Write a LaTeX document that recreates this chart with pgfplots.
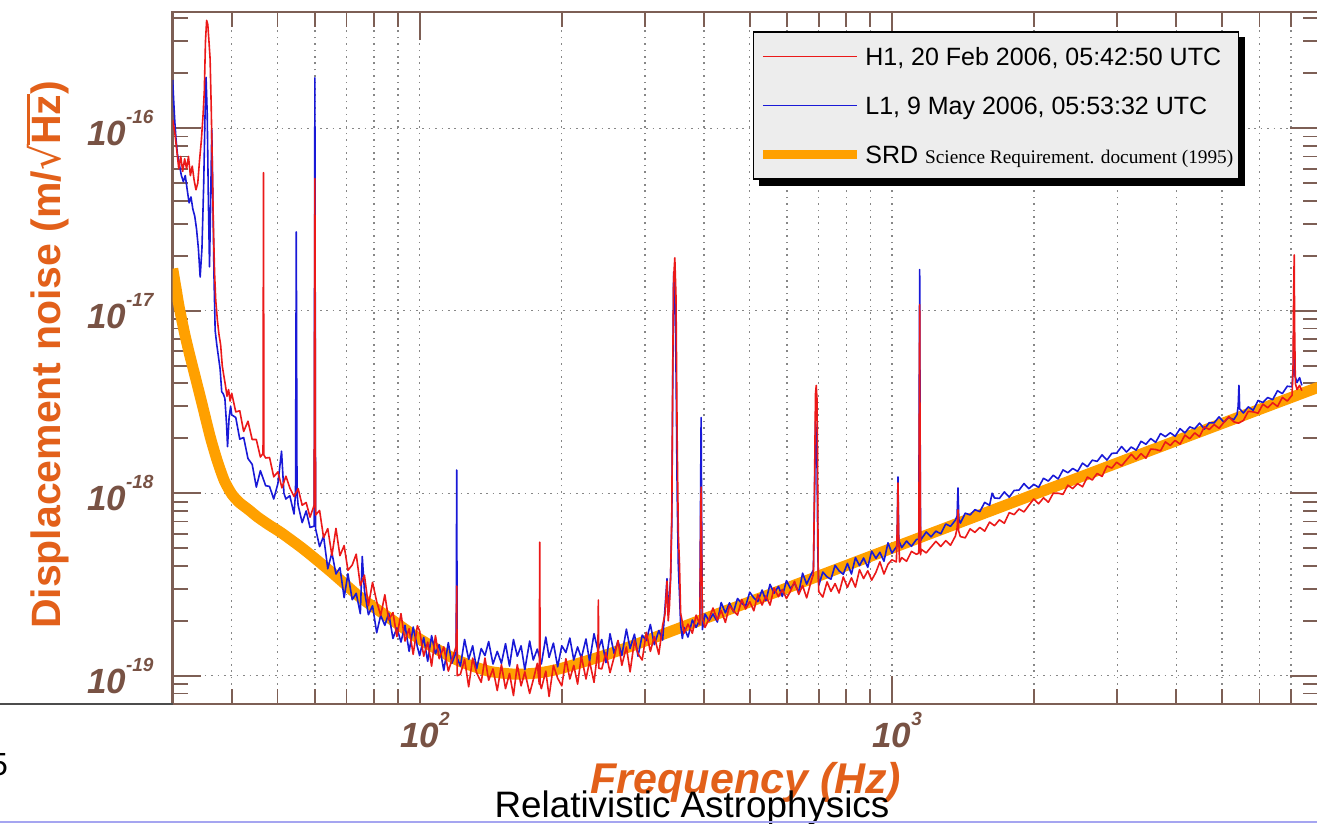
\documentclass[border=0pt]{standalone}
\usepackage{pgfplots}
\pgfplotsset{compat=1.18}
\usepackage{pgfplotstable}
\usepackage{fontspec}
\setmainfont{Liberation Sans}
\newfontfamily\timesfont{Liberation Serif}
\newfontfamily\djv{DejaVu Sans}

\definecolor{h1red}{RGB}{235,25,25}
\definecolor{l1blue}{RGB}{25,25,215}
\definecolor{srdorange}{RGB}{255,160,0}
\definecolor{axisbrown}{RGB}{125,95,85}
\definecolor{tickbrown}{RGB}{120,82,68}
\definecolor{labelorange}{RGB}{226,96,26}
\definecolor{legendgray}{RGB}{237,237,237}
\definecolor{slidepurple}{RGB}{165,165,240}
\definecolor{gridgray}{RGB}{135,135,135}

\newcommand{\xtl}[1]{10\rlap{\raisebox{0.63em}{\fontsize{19}{19}\selectfont #1}}}
\newcommand{\ytl}[1]{10\raisebox{0.63em}{\fontsize{19}{19}\selectfont #1}}

\pgfplotstableread[row sep=\\]{
f v\\
30 1.11e-16\\ 30.3 9.5e-17\\ 30.6 7.6e-17\\ 30.9 6.0e-17\\ 31.2 7.0e-17\\ 31.5 5.8e-17\\ 31.8 6.8e-17\\
32.1 6.0e-17\\ 32.4 7.0e-17\\ 32.7 5.5e-17\\ 33.0 6.2e-17\\ 33.3 5.2e-17\\ 33.6 4.6e-17\\ 33.9 5.0e-17\\
34.2 6.7e-17\\ 34.5 8.6e-17\\ 34.8 1.2e-16\\ 35.0 1.6e-16\\ 35.2 3.0e-16\\ 35.4 3.9e-16\\ 35.6 3.7e-16\\
35.8 3.0e-16\\ 36.0 2.4e-16\\ 36.2 1.3e-16\\ 36.4 6.0e-17\\ 36.6 2.8e-17\\ 36.8 1.6e-17\\ 37.0 1.15e-17\\
37.3 8.9e-18\\ 37.6 7.4e-18\\ 37.9 6.5e-18\\ 38.2 5.0e-18\\ 38.5 4.4e-18\\ 38.8 3.9e-18\\ 39.1 3.4e-18\\
39.4 3.7e-18\\ 39.7 3.2e-18\\ 40 3.53e-18\\ 40.8 2.79e-18\\ 41.6 2.83e-18\\ 42.4 2.18e-18\\ 43.3 2.48e-18\\
44.2 1.97e-18\\ 45.1 1.97e-18\\ 46 1.58e-18\\ 46.6 1.65e-18\\ 46.7 5.7e-17\\ 46.8 1.62e-18\\ 47.2 1.56e-18\\
48.1 1.57e-18\\ 49.1 1.23e-18\\ 50.1 1.31e-18\\ 51.1 1.07e-18\\ 52.1 1.24e-18\\ 53.1 1.07e-18\\ 54.2 9.6e-19\\
55.3 1.06e-18\\ 56.4 8.6e-19\\ 57.5 8.9e-19\\ 58.6 7.4e-19\\ 59.8 8.6e-19\\ 60 5.3e-17\\ 60.2 7.6e-19\\
61.4 8.05e-19\\ 62.6 5.72e-19\\ 63.9 6.4e-19\\ 65.2 4.56e-19\\ 66.5 6.42e-19\\ 67.8 4.55e-19\\ 69.2 5.17e-19\\
70.5 3.78e-19\\ 72 4.05e-19\\ 73.4 4.64e-19\\ 74.9 3.12e-19\\ 76.4 3.56e-19\\ 77.9 2.42e-19\\ 79.5 3.25e-19\\
81.1 2.55e-19\\ 82.7 2.14e-19\\ 84.4 2.78e-19\\ 86 2.02e-19\\ 87.8 2.22e-19\\ 89.5 1.64e-19\\ 91.3 2.19e-19\\
93.1 1.55e-19\\ 95 1.81e-19\\ 96.9 1.31e-19\\ 98.9 1.88e-19\\ 100 1.76e-19\\ 102 1.28e-19\\ 104 1.53e-19\\
106 1.13e-19\\ 108 1.66e-19\\ 110 1.24e-19\\ 112.5 1.44e-19\\ 115 1.06e-19\\ 117 1.22e-19\\ 119.5 1.45e-19\\
119.8 3.1e-19\\ 120.1 1.0e-19\\ 122 1.02e-19\\ 124.5 1.23e-19\\ 127 8.7e-20\\ 129.5 1.25e-19\\ 132 1.04e-19\\
135 9.2e-20\\ 137.5 1.25e-19\\ 140 9.45e-20\\ 143 1.09e-19\\ 146 8.3e-20\\ 149 1.15e-19\\ 152 8.5e-20\\
155 1.03e-19\\ 158 7.8e-20\\ 161 1.15e-19\\ 164 8.8e-20\\ 167 1.05e-19\\ 171 8.0e-20\\ 174 9.5e-20\\
177.5 1.17e-19\\ 179.2 9.0e-20\\ 179.6 5.4e-19\\ 180 9.0e-20\\ 181 8.5e-20\\ 185 1.06e-19\\ 188 7.7e-20\\
192 1.14e-19\\ 196 9.7e-20\\ 200 8.8e-20\\ 204 1.24e-19\\ 208 9.6e-20\\ 212 1.14e-19\\ 216 9.0e-20\\
220 1.28e-19\\ 225 9.6e-20\\ 229 1.2e-19\\ 234 9.2e-20\\ 238.5 1.4e-19\\ 239 2.6e-19\\ 239.5 1.1e-19\\
243 1.09e-19\\ 248 1.34e-19\\ 253 1.04e-19\\ 258 1.26e-19\\ 263 1.56e-19\\ 268 1.14e-19\\ 274 1.44e-19\\
279 1.05e-19\\ 285 1.56e-19\\ 290 1.32e-19\\ 296 1.22e-19\\ 302 1.73e-19\\ 308 1.36e-19\\ 314 1.64e-19\\
321 1.31e-19\\ 327 1.89e-19\\ 331 2.2e-19\\ 334 3.3e-19\\ 336 2.0e-19\\ 338 2.4e-19\\ 340 3.5e-19\\
342 8.0e-19\\ 343.5 5.0e-18\\ 345 1.5e-17\\ 347 1.95e-17\\ 349 1.2e-17\\ 351 2.0e-18\\ 353 6.0e-19\\
355 4.1e-19\\ 357 2.2e-19\\ 360 1.97e-19\\ 363 1.71e-19\\ 370 1.92e-19\\ 378 1.71e-19\\ 385 2.15e-19\\
392 1.91e-19\\ 393.5 6.0e-19\\ 394.5 1.08e-18\\ 395.5 5.0e-19\\ 397 2.08e-19\\ 402 1.84e-19\\ 410 2.05e-19\\
418 2.35e-19\\ 427 2.02e-19\\ 435 2.28e-19\\ 444 1.96e-19\\ 453 2.42e-19\\ 462 2.27e-19\\ 471 2.15e-19\\
481 2.62e-19\\ 490 2.32e-19\\ 500 2.55e-19\\ 510 2.27e-19\\ 520 2.78e-19\\ 531 2.44e-19\\ 541 2.74e-19\\
552 2.44e-19\\ 563 3.03e-19\\ 575 2.71e-19\\ 586 2.97e-19\\ 598 2.65e-19\\ 610 2.91e-19\\ 622 3.29e-19\\
635 2.79e-19\\ 647 3.12e-19\\ 660 2.67e-19\\ 673 3.23e-19\\ 682 3.6e-19\\ 686 1.2e-18\\ 689 3.5e-18\\
691.5 3.9e-18\\ 694 3.3e-18\\ 696 1.5e-18\\ 698 4.0e-19\\ 700 2.89e-19\\ 714 2.7e-19\\ 729 3.27e-19\\
743 2.9e-19\\ 758 3.2e-19\\ 773 2.84e-19\\ 789 3.48e-19\\ 805 3.05e-19\\ 821 3.44e-19\\ 837 3.06e-19\\
854 3.81e-19\\ 871 3.41e-19\\ 889 3.76e-19\\ 906 3.34e-19\\ 925 3.69e-19\\ 943 4.21e-19\\ 962 3.61e-19\\
981 4.08e-19\\ 1000 4.32e-19\\ 1022 4.2e-19\\ 1027 7.0e-19\\ 1030 1.14e-18\\ 1033 6.0e-19\\ 1038 4.2e-19\\
1049 4.44e-19\\ 1074 4.24e-19\\ 1100 4.8e-19\\ 1127 4.63e-19\\ 1140 4.7e-19\\ 1143 3.0e-18\\ 1145 1.08e-17\\
1147 2.0e-18\\ 1150 4.6e-19\\ 1154 4.93e-19\\ 1182 4.71e-19\\ 1210 5.07e-19\\ 1239 5.45e-19\\ 1269 5.11e-19\\
1300 5.5e-19\\ 1331 5.19e-19\\ 1363 5.83e-19\\ 1375 6.5e-19\\ 1380 8.1e-19\\ 1385 6.2e-19\\ 1396 5.79e-19\\
1430 5.7e-19\\ 1464 6.38e-19\\ 1499 6.1e-19\\ 1535 6.5e-19\\ 1572 6.2e-19\\ 1610 6.95e-19\\ 1649 6.64e-19\\
1689 7.15e-19\\ 1730 6.85e-19\\ 1772 7.83e-19\\ 1815 7.64e-19\\ 1859 8.2e-19\\ 1904 7.9e-19\\ 1950 8.59e-19\\
1997 9.3e-19\\ 2045 8.75e-19\\ 2094 9.44e-19\\ 2144 8.93e-19\\ 2196 1.0e-18\\ 2249 1.0e-18\\ 2303 9.86e-19\\
2358 1.107e-18\\ 2415 1.06e-18\\ 2473 1.13e-18\\ 2533 1.085e-18\\ 2594 1.227e-18\\ 2656 1.182e-18\\ 2720 1.284e-18\\
2786 1.236e-18\\ 2853 1.411e-18\\ 2922 1.374e-18\\ 2992 1.479e-18\\ 3064 1.412e-18\\ 3138 1.521e-18\\ 3213 1.635e-18\\
3290 1.532e-18\\ 3369 1.649e-18\\ 3450 1.557e-18\\ 3533 1.747e-18\\ 3618 1.737e-18\\ 3705 1.707e-18\\ 3794 1.912e-18\\
3885 1.828e-18\\ 3979 1.948e-18\\ 4075 1.858e-18\\ 4173 2.083e-18\\ 4273 1.99e-18\\ 4376 2.142e-18\\ 4481 2.043e-18\\
4589 2.313e-18\\ 4699 2.233e-18\\ 4812 2.379e-18\\ 4928 2.27e-18\\ 5047 2.447e-18\\ 5168 2.63e-18\\ 5292 2.464e-18\\
5419 2.42e-18\\ 5549 2.504e-18\\ 5683 2.81e-18\\ 5820 2.794e-18\\ 5960 2.746e-18\\ 6103 3.076e-18\\ 6250 2.94e-18\\
6400 3.133e-18\\ 6554 2.989e-18\\ 6712 3.351e-18\\ 6873 3.2e-18\\ 7038 3.446e-18\\ 7070 5.0e-18\\ 7090 1.2e-17\\
7110 2.02e-17\\ 7125 8.0e-18\\ 7150 4.0e-18\\ 7207 3.7e-18\\ 7300 3.9e-18\\ 7380 3.65e-18\\
}\tabred

\pgfplotstableread[row sep=\\]{
f v\\
30 1.84e-16\\ 30.15 1.4e-16\\ 30.3 1.1e-16\\ 30.5 8.6e-17\\ 30.7 7.2e-17\\ 31.0 6.3e-17\\ 31.3 5.5e-17\\
31.6 5.1e-17\\ 31.9 5.5e-17\\ 32.2 4.6e-17\\ 32.5 3.9e-17\\ 32.8 4.2e-17\\ 33.1 3.6e-17\\ 33.4 3.3e-17\\
33.7 2.8e-17\\ 34.0 2.2e-17\\ 34.3 1.53e-17\\ 34.6 2.2e-17\\ 34.9 5.0e-17\\ 35.1 1.1e-16\\ 35.3 1.9e-16\\
35.5 1.2e-16\\ 35.7 4.0e-17\\ 35.9 1.74e-17\\ 36.1 4.0e-17\\ 36.3 9.8e-17\\ 36.5 4.0e-17\\ 36.7 1.5e-17\\
36.9 7.8e-18\\ 37.2 6.5e-18\\ 37.5 5.6e-18\\ 37.8 4.8e-18\\ 38.1 3.6e-18\\ 38.4 3.5e-18\\ 38.7 3.3e-18\\
39.0 2.4e-18\\ 39.2 1.8e-18\\ 39.5 2.6e-18\\ 39.8 3.0e-18\\ 40 2.69e-18\\ 40.8 2.6e-18\\ 41.6 1.98e-18\\
42.4 2.02e-18\\ 43.3 1.55e-18\\ 44.2 1.44e-18\\ 45.1 1.08e-18\\ 46 1.33e-18\\ 47.2 1.1e-18\\ 48.1 1.09e-18\\
49.1 9.3e-19\\ 50.1 1.13e-18\\ 51 1.7e-18\\ 51.6 1.0e-18\\ 52.1 9.3e-19\\ 53.1 9.7e-19\\ 54.2 7.7e-19\\
54.6 1.0e-18\\ 54.8 2.7e-17\\ 55.0 1.0e-18\\ 55.3 8.6e-19\\ 56.4 6.9e-19\\ 57.5 8.0e-19\\ 58.6 6.5e-19\\
59.8 6.6e-19\\ 60 1.89e-16\\ 60.2 6.4e-19\\ 61.4 5.1e-19\\ 62.6 5.82e-19\\ 63.9 3.86e-19\\ 65.2 4.72e-19\\
66.5 3.61e-19\\ 67.8 3.91e-19\\ 69.2 2.68e-19\\ 70.5 3.62e-19\\ 72 2.61e-19\\ 73.4 2.83e-19\\ 74.9 2.19e-19\\
75.6 4.5e-19\\ 76.4 2.94e-19\\ 77.9 2.16e-19\\ 79.5 2.42e-19\\ 81.1 1.72e-19\\ 82.7 2.14e-19\\ 84.4 1.89e-19\\
86 2.2e-19\\ 87.8 1.6e-19\\ 89.5 1.83e-19\\ 91.3 1.53e-19\\ 93.1 1.89e-19\\ 95 1.36e-19\\ 96.9 1.85e-19\\
98.9 1.44e-19\\ 100 1.29e-19\\ 102 1.62e-19\\ 104 1.2e-19\\ 106 1.66e-19\\ 108 1.32e-19\\ 110 1.48e-19\\
112.5 1.07e-19\\ 115 1.52e-19\\ 117 1.17e-19\\ 119.5 1.35e-19\\ 119.8 1.34e-18\\ 120.1 1.25e-19\\ 122 1.13e-19\\
124.5 1.58e-19\\ 127 1.23e-19\\ 129.5 1.46e-19\\ 132 1.09e-19\\ 135 1.41e-19\\ 137.5 1.29e-19\\ 140 1.54e-19\\
143 1.16e-19\\ 146 1.36e-19\\ 149 1.17e-19\\ 152 1.5e-19\\ 155 1.13e-19\\ 158 1.58e-19\\ 161 1.28e-19\\
164 1.46e-19\\ 167 1.08e-19\\ 171 1.55e-19\\ 174 1.22e-19\\ 177.5 1.4e-19\\ 181 1.16e-19\\ 185 1.63e-19\\
188 1.26e-19\\ 192 1.51e-19\\ 196 1.12e-19\\ 200 1.46e-19\\ 204 1.34e-19\\ 208 1.61e-19\\ 212 1.22e-19\\
216 1.44e-19\\ 220 1.25e-19\\ 225 1.59e-19\\ 229 1.2e-19\\ 234 1.7e-19\\ 238.5 1.38e-19\\ 243 1.58e-19\\
248 1.18e-19\\ 253 1.7e-19\\ 258 1.33e-19\\ 263 1.55e-19\\ 268 1.29e-19\\ 274 1.8e-19\\ 279 1.41e-19\\
285 1.69e-19\\ 290 1.28e-19\\ 296 1.67e-19\\ 302 1.56e-19\\ 308 1.91e-19\\ 314 1.48e-19\\ 321 1.77e-19\\
327 1.57e-19\\ 331 2.4e-19\\ 334 3.4e-19\\ 336 2.2e-19\\ 338 2.7e-19\\ 340 3.5e-19\\ 342 7.0e-19\\
343.5 4.0e-18\\ 345 1.63e-17\\ 347 1.5e-17\\ 349 5.0e-18\\ 351 1.0e-18\\ 353 4.0e-19\\ 355 2.8e-19\\
357 1.9e-19\\ 360 1.6e-19\\ 363 1.84e-19\\ 370 1.63e-19\\ 378 2.02e-19\\ 385 1.84e-19\\ 392 2.03e-19\\
393.5 1.0e-18\\ 394.5 2.6e-18\\ 395.5 8.0e-19\\ 397 1.79e-19\\ 402 2.18e-19\\ 410 2.0e-19\\ 418 2.18e-19\\
427 1.97e-19\\ 435 2.52e-19\\ 444 2.21e-19\\ 453 2.51e-19\\ 462 2.24e-19\\ 471 2.65e-19\\ 481 2.49e-19\\
490 2.41e-19\\ 500 2.87e-19\\ 510 2.67e-19\\ 520 2.55e-19\\ 531 2.95e-19\\ 541 2.58e-19\\ 552 3.17e-19\\
563 2.83e-19\\ 575 3.09e-19\\ 586 2.72e-19\\ 598 3.32e-19\\ 610 3.0e-19\\ 622 3.22e-19\\ 635 2.86e-19\\
647 3.65e-19\\ 660 3.18e-19\\ 673 3.55e-19\\ 682 3.8e-19\\ 686 1.0e-18\\ 689 2.47e-18\\ 691.5 2.2e-18\\
694 1.5e-18\\ 697 4.5e-19\\ 700 3.13e-19\\ 714 3.7e-19\\ 729 3.48e-19\\ 743 3.38e-19\\ 758 4.03e-19\\
773 3.76e-19\\ 789 3.6e-19\\ 805 4.13e-19\\ 821 3.61e-19\\ 837 4.44e-19\\ 854 4.01e-19\\ 871 4.42e-19\\
889 3.93e-19\\ 906 4.82e-19\\ 925 4.4e-19\\ 943 4.75e-19\\ 962 4.24e-19\\ 981 5.35e-19\\ 1000 4.7e-19\\
1024 5.12e-19\\ 1026 6.0e-19\\ 1030 1.23e-18\\ 1034 5.5e-19\\ 1049 5.04e-19\\ 1074 5.47e-19\\ 1100 5.12e-19\\
1127 5.58e-19\\ 1140 5.6e-19\\ 1143 5.0e-18\\ 1145 1.68e-17\\ 1147 3.0e-18\\ 1150 5.5e-19\\ 1154 5.6e-19\\
1182 6.14e-19\\ 1210 5.77e-19\\ 1239 6.2e-19\\ 1269 6.0e-19\\ 1300 6.79e-19\\ 1331 6.59e-19\\ 1363 7.13e-19\\
1374 7.5e-19\\ 1380 1.07e-18\\ 1386 7.2e-19\\ 1396 6.86e-19\\ 1430 7.78e-19\\ 1464 7.61e-19\\ 1499 8.13e-19\\
1535 7.93e-19\\ 1572 8.91e-19\\ 1610 8.59e-19\\ 1630 1.0e-18\\ 1649 9.42e-19\\ 1689 9.37e-19\\ 1730 1.017e-18\\
1772 9.52e-19\\ 1815 1.036e-18\\ 1859 1.041e-18\\ 1904 1.13e-18\\ 1950 1.059e-18\\ 1997 1.119e-18\\ 2045 1.078e-18\\
2094 1.208e-18\\ 2144 1.166e-18\\ 2196 1.255e-18\\ 2249 1.198e-18\\ 2303 1.342e-18\\ 2358 1.296e-18\\ 2415 1.367e-18\\
2473 1.318e-18\\ 2533 1.462e-18\\ 2594 1.397e-18\\ 2656 1.518e-18\\ 2720 1.495e-18\\ 2786 1.623e-18\\ 2853 1.52e-18\\
2922 1.654e-18\\ 2992 1.661e-18\\ 3064 1.803e-18\\ 3138 1.683e-18\\ 3213 1.792e-18\\ 3290 1.722e-18\\ 3369 1.927e-18\\
3450 1.856e-18\\ 3533 1.994e-18\\ 3618 1.9e-18\\ 3705 2.124e-18\\ 3794 2.043e-18\\ 3885 2.144e-18\\ 3979 2.052e-18\\
4075 2.259e-18\\ 4173 2.142e-18\\ 4273 2.31e-18\\ 4376 2.253e-18\\ 4481 2.423e-18\\ 4589 2.247e-18\\ 4699 2.435e-18\\
4812 2.43e-18\\ 4928 2.622e-18\\ 5047 2.448e-18\\ 5168 2.61e-18\\ 5292 2.524e-18\\ 5380 2.7e-18\\ 5410 3.0e-18\\
5430 3.9e-18\\ 5450 2.9e-18\\ 5549 2.752e-18\\ 5683 2.974e-18\\ 5820 2.849e-18\\ 5960 3.223e-18\\ 6103 3.142e-18\\
6250 3.347e-18\\ 6400 3.256e-18\\ 6554 3.646e-18\\ 6712 3.516e-18\\ 6873 3.858e-18\\ 7038 3.832e-18\\ 7080 5.0e-18\\
7100 8.6e-18\\ 7120 4.5e-18\\ 7207 4.04e-18\\ 7300 4.3e-18\\ 7380 3.9e-18\\
}\tabblue

\pgfplotstableread[row sep=\\]{
f v\\
30 1.7e-17\\ 30.5 1.32e-17\\ 31 1.03e-17\\ 31.8 7.5e-18\\ 32.5 5.9e-18\\ 33.3 4.6e-18\\ 34.5 3.2e-18\\
36 2.05e-18\\ 37.3 1.5e-18\\ 38.6 1.17e-18\\ 40 9.9e-19\\ 41.5 8.9e-19\\ 43.5 8.1e-19\\ 45.4 7.4e-19\\
48 6.7e-19\\ 51 6.06e-19\\ 57 4.9e-19\\ 65 3.7e-19\\ 75 2.68e-19\\ 85 2.13e-19\\ 100 1.59e-19\\
120 1.22e-19\\ 140 1.06e-19\\ 160 1.02e-19\\ 180 1.04e-19\\ 200 1.1e-19\\ 250 1.31e-19\\ 300 1.55e-19\\
400 2.05e-19\\ 600 3.03e-19\\ 1000 5.0e-19\\ 2000 9.85e-19\\ 4000 1.94e-18\\ 8000 3.81e-18\\
}\tabsrd

\begin{document}
\begin{tikzpicture}[x=1pt,y=1pt]
\path[use as bounding box] (0,0) rectangle (1317,823);
\begin{axis}[
  at={(172.7pt,119pt)}, anchor=south west,
  width=1145.7pt, height=692pt, scale only axis,
  xmode=log, ymode=log,
  xmin=30, xmax=8000, ymin=7e-20, ymax=4.33e-16,
  axis line style={draw=axisbrown, line width=2.5pt},
  tick style={draw=axisbrown, line width=1.8pt},
  major tick length=28pt, minor tick length=15pt,
  tick align=inside,
  xtick={100,1000},
  xticklabels={\xtl{2},\xtl{3}},
  minor xtick={30,40,50,60,70,80,90,200,300,400,500,600,700,800,900,2000,3000,4000,5000,6000,7000,8000},
  ytick={1e-19,1e-18,1e-17,1e-16},
  yticklabels={\ytl{-19},\ytl{-18},\ytl{-17},\ytl{-16}},
  minor ytick={8e-20,9e-20,2e-19,3e-19,4e-19,5e-19,6e-19,7e-19,8e-19,9e-19,2e-18,3e-18,4e-18,5e-18,6e-18,7e-18,8e-18,9e-18,2e-17,3e-17,4e-17,5e-17,6e-17,7e-17,8e-17,9e-17,2e-16,3e-16,4e-16},
  xmajorgrids=true, xminorgrids=true, ymajorgrids=true, yminorgrids=false,
  major grid style={draw=gridgray, line width=1.3pt, dash pattern=on 1.6pt off 4.8pt},
  minor grid style={draw=gridgray, line width=1.3pt, dash pattern=on 1.6pt off 4.8pt},
  tick label style={font=\fontsize{35}{35}\selectfont\bfseries\itshape, text=tickbrown},
  xticklabel style={anchor=north, inner sep=0pt, yshift=-8pt},
  yticklabel style={anchor=east, inner sep=0pt, xshift=-19pt},
  legend image code/.code={\draw[#1] (8pt,0pt) -- (94pt,0pt); \path (0pt,0pt) -- (94pt,0pt);},
  legend cell align=left,
  legend style={name=leg, at={(0.9307,0.9725)}, anchor=north east,
    fill=legendgray, draw=black, line width=1.5pt,
    font=\fontsize{25}{30}\selectfont,
    inner xsep=5pt, inner ysep=0pt, column sep=4pt, row sep=0pt,
    nodes={inner sep=0pt, text height=18pt, text depth=0pt, minimum height=49pt}},
]
\addlegendimage{h1red, line width=1.2pt}
\addlegendentry{H1, 20 Feb 2006, 05:42:50 UTC}
\addlegendimage{l1blue, line width=1.2pt}
\addlegendentry{L1, 9 May 2006, 05:53:32 UTC}
\addlegendimage{srdorange, line width=9pt}
\addlegendentry{SRD {\timesfont\fontsize{19.3}{22}\selectfont Science Requirement. document (1995)}}

\addplot[srdorange, line width=11pt, smooth, tension=0.4, forget plot] table {\tabsrd};
\addplot[l1blue, line width=1.6pt, line join=round, forget plot] table {\tabblue};
\addplot[h1red, line width=1.6pt, line join=round, forget plot] table {\tabred};
\end{axis}
% legend shadow (right and bottom strips)
\fill[black] ([yshift=-6pt]leg.north east) rectangle ([xshift=6pt,yshift=-6pt]leg.south east);
\fill[black] ([xshift=6pt,yshift=-6pt]leg.south west) rectangle (leg.south east);

\node[rotate=90, text=labelorange, font=\fontsize{41}{41}\selectfont\bfseries, inner sep=0pt] at (48,468) {Displacement noise (m/{\djv\mdseries √}\rlap{\rule[0.74em]{1.25em}{0.07em}}Hz)};
\node[text=labelorange, font=\fontsize{43}{43}\selectfont\bfseries\itshape, inner sep=0pt] at (746,41) {Frequency (Hz)};
\draw[draw=gray!60!black, line width=1.5pt] (0,119) -- (172.7,119);
\node[anchor=base west, font=\fontsize{32}{32}\selectfont, inner sep=0pt] at (-10,48) {5};
\node[anchor=base, font=\fontsize{36.8}{40}\selectfont, inner sep=0pt] at (692,6) {Relativistic Astrophysics};
\draw[draw=slidepurple, line width=2pt] (0,1.5) -- (1317,1.5);
\end{tikzpicture}
\end{document}
